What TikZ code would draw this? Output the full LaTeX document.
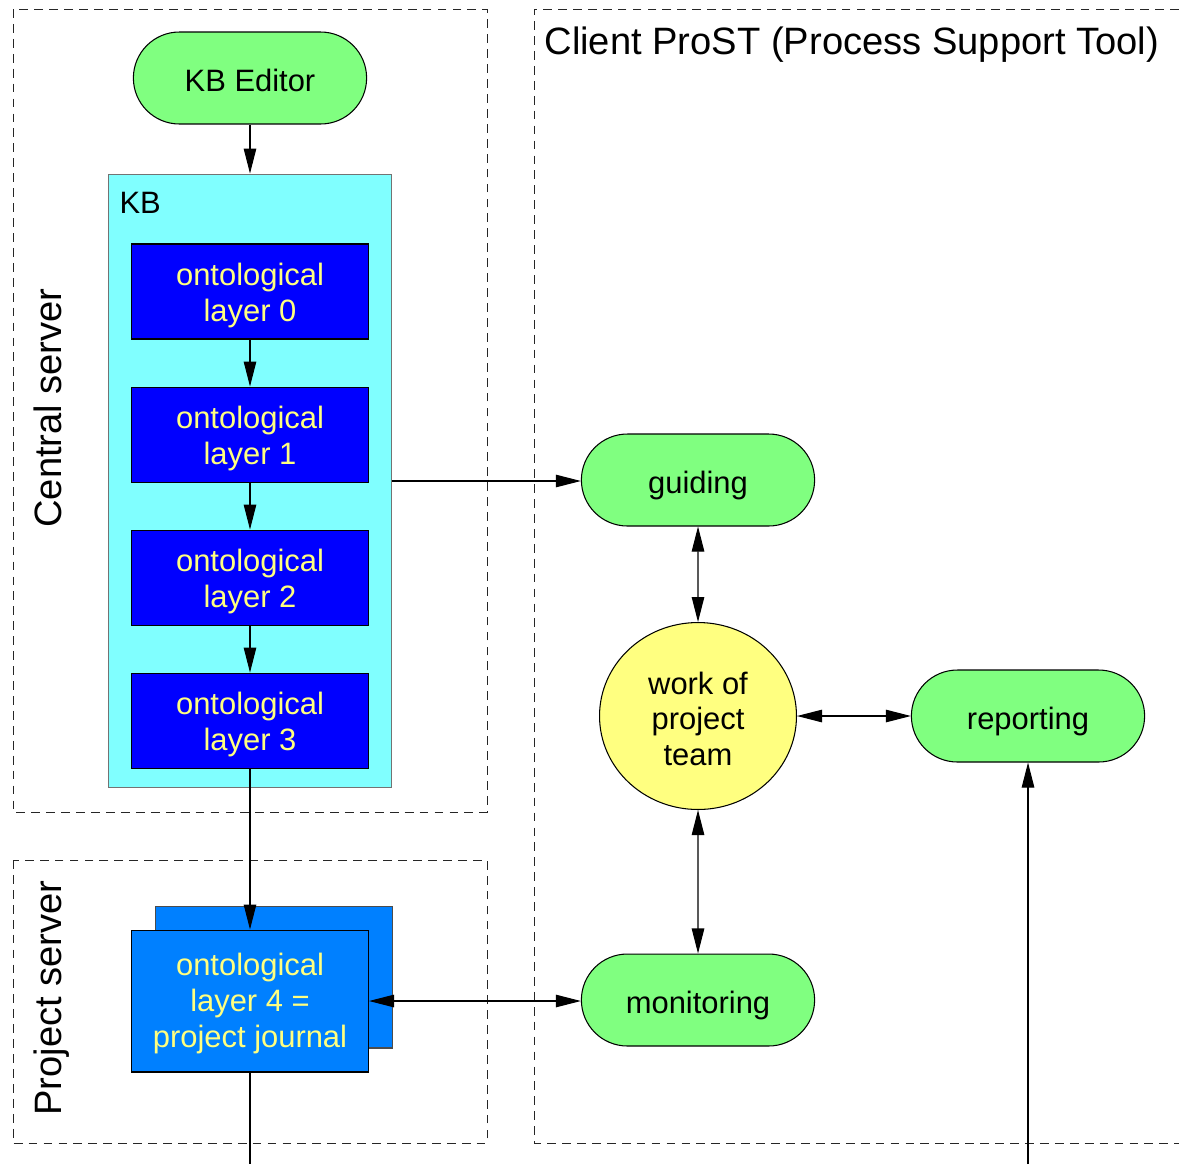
\documentclass[tikz,border=0pt]{standalone}
\usepackage{fontspec}
\setmainfont{Liberation Sans}
\usetikzlibrary{arrows.meta, positioning, shapes.geometric, shapes.misc}

\definecolor{procgreen}{HTML}{80FF80}
\definecolor{kbcyan}{HTML}{80FFFF}
\definecolor{layerblue}{HTML}{0000FF}
\definecolor{journalblue}{HTML}{0080FF}
\definecolor{layertext}{HTML}{FFFF80}
\definecolor{teamyellow}{HTML}{FFFF80}

\begin{document}
\begin{tikzpicture}[
   x=0.02cm, y=-0.02cm,
   line width=0.6pt,
   >={Triangle[length=5mm, width=2.5mm]},
   every node/.style={font=\fontsize{17.6}{20.4}\selectfont},
   big/.style={font=\fontsize{21.7}{25}\selectfont},
   frame/.style={draw=black!85, line width=0.5pt, dash pattern=on 5pt off 3.5pt},
   process/.style={rounded rectangle, draw, fill=procgreen, text height=15.3pt, text depth=0pt, minimum width=4.9cm, minimum height=1.84cm},
   layer/.style={rectangle, draw, fill=layerblue, text=layertext, align=center, text height=34.2pt, text depth=0pt, minimum width=4.74cm, minimum height=1.9cm},
   journal/.style={rectangle, draw, fill=journalblue, text=layertext, align=center, text height=52.6pt, text depth=0pt, minimum width=4.74cm, minimum height=2.84cm}]
   \useasboundingbox (0,0) rectangle (1179,1164);

   % dashed areas
   \draw[frame] (13,9) rectangle (487,812);
   \draw[frame] (13,860) rectangle (487,1143);
   \draw[frame] (1179,9) -- (534,9) -- (534,1143) -- (1179,1143);

   \node[big, rotate=90, anchor=base] (central) at (61,408) {Central server};
   \node[big, rotate=90, anchor=base] (projsrv) at (61,998) {Project server};
   \node[big, anchor=base west, inner sep=0] (client) at (544,54) {Client ProST (Process Support Tool)};

   % central server
   \node[process] (editor) at (250,78) {KB Editor};
   \node[rectangle, draw=black!55, fill=kbcyan, minimum width=5.66cm, minimum height=12.28cm] (kb) at (250,481) {};
   \node[anchor=base west, inner sep=0] (kblabel) at (119,213) {KB};
   \node[layer] (layer0) at (250,291.5) {ontological\\layer 0};
   \node[layer, below=0.94cm of layer0] (layer1) {ontological\\layer 1};
   \node[layer, below=0.94cm of layer1] (layer2) {ontological\\layer 2};
   \node[layer, below=0.94cm of layer2] (layer3) {ontological\\layer 3};

   % project server
   \node[journal, draw=black!70] (layer4b) at (274,977) {};
   \node[journal] (layer4) at (250,1001) {ontological\\layer 4 =\\project journal};

   % client
   \node[process] (guiding) at (698,480) {guiding};
   \node[ellipse, draw, fill=teamyellow, align=center, text height=56.7pt, text depth=0pt, inner sep=0, minimum width=3.94cm, minimum height=3.74cm] (team) at (698,716) {work of\\project\\team};
   \node[process] (reporting) at (1028,716) {reporting};
   \node[process] (monitoring) at (698,1000) {monitoring};

   \coordinate (jout) at (250,1164);
   \coordinate (repin) at (1028,1164);

   \draw[->] (editor.south) -- (kb.north);
   \draw[->] (layer0) -- (layer1);
   \draw[->] (layer1) -- (layer2);
   \draw[->] (layer2) -- (layer3);
   \draw[->] (layer3.south) -- (layer4.north);
   \draw (layer4.south) -- (jout);
   \draw[->] (kb.east) -- (kb.east -| guiding.west);
   \draw[<->] (guiding) -- (team);
   \draw[<->] (team) -- (reporting);
   \draw[<->] (team) -- (monitoring);
   \draw[<->] (layer4.east) -- (layer4.east -| monitoring.west);
   \draw[->] (repin) -- (reporting.south);
\end{tikzpicture}
\end{document}
